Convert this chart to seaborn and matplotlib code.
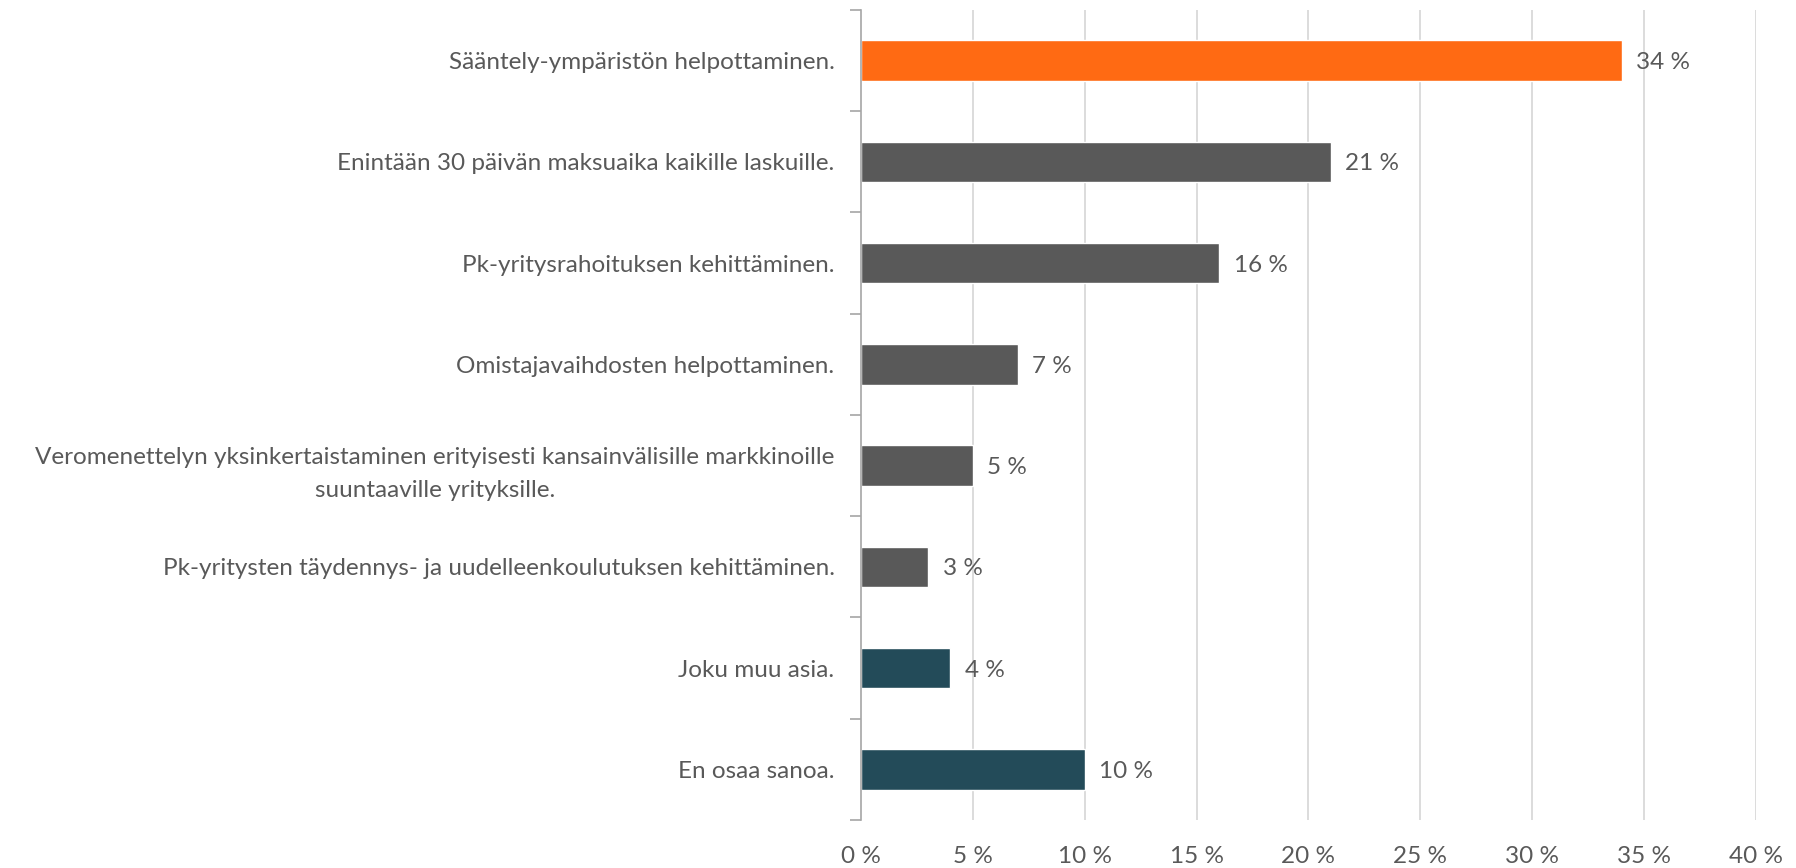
import matplotlib
matplotlib.use("Agg")
import matplotlib.pyplot as plt
import seaborn as sns
import pandas as pd
from matplotlib.ticker import FixedLocator

categories = [
    "Sääntely-ympäristön helpottaminen.",
    "Enintään 30 päivän maksuaika kaikille laskuille.",
    "Pk-yritysrahoituksen kehittäminen.",
    "Omistajavaihdosten helpottaminen.",
    "Veromenettelyn yksinkertaistaminen erityisesti kansainvälisille markkinoille\nsuuntaaville yrityksille.",
    "Pk-yritysten täydennys- ja uudelleenkoulutuksen kehittäminen.",
    "Joku muu asia.",
    "En osaa sanoa.",
]
values = [34, 21, 16, 7, 5, 3, 4, 10]
bar_colors = ["#FF6A13", "#595959", "#595959", "#595959", "#595959", "#595959", "#234B59", "#234B59"]
xticks = [0, 5, 10, 15, 20, 25, 30, 35, 40]
xtick_labels = ["0 %", "5 %", "10 %", "15 %", "20 %", "25 %", "30 %", "35 %", "40 %"]

sns.set_theme(style="white")
plt.rcParams['font.family'] = ['Lato', 'DejaVu Sans']
text_color = "#595959"
fs = 17.5

df = pd.DataFrame({"cat": categories, "val": values})

fig = plt.figure(figsize=(17.96, 8.68), dpi=100)
ax = fig.add_axes([0.4794, 0.0553, 0.4983, 0.9332])

sns.barplot(data=df, x="val", y="cat", hue="cat", palette=bar_colors,
            legend=False, width=0.4, orient="h", ax=ax, saturation=1)

ax.set_xlim(0, 40)
ax.set_ylim(len(categories) - 0.5, -0.5)
ax.set_xlabel("")
ax.set_ylabel("")

ax.set_xticks(xticks)
ax.set_xticklabels(xtick_labels, fontsize=fs, color=text_color)
ax.tick_params(axis="x", length=0, pad=19)
for xv in xticks[1:]:
    ax.axvline(xv, color="#D9D9D9", lw=1.3, zorder=0)

ax.tick_params(axis="y", which="major", length=0, pad=19, labelsize=fs, labelcolor=text_color)
for lbl in ax.get_yticklabels():
    lbl.set_multialignment("center")
    lbl.set_linespacing(1.75)
ax.yaxis.set_minor_locator(FixedLocator([i - 0.5 for i in range(len(categories) + 1)]))
ax.tick_params(axis="y", which="minor", length=8, width=1.2, color="#A6A6A6", left=True)

for s in ["top", "right", "bottom"]:
    ax.spines[s].set_visible(False)
ax.spines["left"].set_color("#A6A6A6")
ax.spines["left"].set_linewidth(1.2)

for i, v in enumerate(values):
    ax.text(v + 0.65, i + 0.02, f"{v} %", va="center", ha="left", fontsize=fs, color=text_color)

fig.savefig("out.png", dpi=100)
